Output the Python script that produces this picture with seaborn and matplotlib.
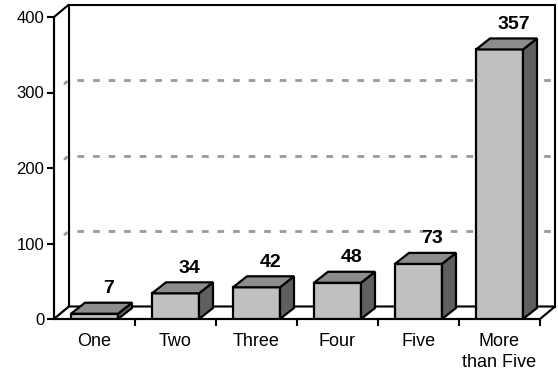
import matplotlib
matplotlib.use("Agg")
import matplotlib.pyplot as plt
import seaborn as sns
import pandas as pd
from matplotlib.patches import Polygon

categories = ["One", "Two", "Three", "Four", "Five", "More\nthan Five"]
counts = [7, 34, 42, 48, 73, 357]
y_ticks = [0, 100, 200, 300, 400]
grid_values = [100, 200, 300]

sns.set_theme(style="white")
plt.rcParams["font.family"] = ["Liberation Sans", "DejaVu Sans"]
plt.rcParams["text.color"] = "black"
plt.rcParams["xtick.color"] = "black"
plt.rcParams["ytick.color"] = "black"

W, H = 558, 375
fig = plt.figure(figsize=(W / 100, H / 100), dpi=100)
left_px, right_px, floor_px, top_px = 54, 540, 319, 17
ax = fig.add_axes([left_px / W, (H - floor_px) / H,
                   (right_px - left_px) / W, (floor_px - top_px) / H])
ax.set_facecolor("none")

df = pd.DataFrame({"category": categories, "count": counts})
sns.barplot(data=df, x="category", y="count", color="#C0C0C0", saturation=1,
            width=0.58, edgecolor="black", linewidth=1.6, ax=ax, zorder=3)
bars = list(ax.patches)

ax.set_xlim(-0.5, len(categories) - 0.5)
ax.set_ylim(y_ticks[0], y_ticks[-1])

# pixel -> data unit helpers for the pseudo-3D depth
px_x = (right_px - left_px) / len(categories)
px_y = (floor_px - top_px) / (y_ticks[-1] - y_ticks[0])


def depth(dx_px, dy_px):
    return dx_px / px_x, dy_px / px_y


wdx, wdy = depth(15, 12.5)   # wall / floor depth
bdx, bdy = depth(14, 11)     # bar depth

x0, x1 = -0.5, len(categories) - 0.5
ymax = y_ticks[-1]
wall_kw = dict(facecolor="white", edgecolor="black", linewidth=1.5,
               clip_on=False, joinstyle="miter")
# back wall, side wall, floor
ax.add_patch(Polygon([(x0 + wdx, wdy), (x1 + wdx, wdy), (x1 + wdx, ymax + wdy),
                      (x0 + wdx, ymax + wdy)], zorder=0.5, **wall_kw))
ax.add_patch(Polygon([(x0, 0), (x0 + wdx, wdy), (x0 + wdx, ymax + wdy), (x0, ymax)],
                     zorder=0.6, **wall_kw))
ax.add_patch(Polygon([(x0, 0), (x1, 0), (x1 + wdx, wdy), (x0 + wdx, wdy)],
                     zorder=0.7, **wall_kw))

# dashed gridlines on the back wall, with a short tick on the side wall
grid_kw = dict(color="#999999", linewidth=2, linestyle=(0, (2.4, 3.2)),
               clip_on=False, zorder=1, solid_capstyle="butt")
for v in grid_values:
    ax.plot([x0 + wdx + 0.1, x1 + wdx], [v + wdy, v + wdy], **grid_kw)
    ax.plot([x0 + wdx * 0.72, x0 + wdx * 0.86], [v + wdy * 0.72, v + wdy * 0.86],
            color="#999999", linewidth=2, clip_on=False, zorder=1)

# top and side faces of each bar, plus value labels
for bar, v in zip(bars, counts):
    bx, w, h = bar.get_x(), bar.get_width(), bar.get_height()
    top = Polygon([(bx, h), (bx + w, h), (bx + w + bdx, h + bdy), (bx + bdx, h + bdy)],
                  facecolor="#8C8C8C", edgecolor="black", linewidth=1.6, zorder=3,
                  joinstyle="miter")
    side = Polygon([(bx + w, 0), (bx + w + bdx, bdy), (bx + w + bdx, h + bdy), (bx + w, h)],
                   facecolor="#5F5F5F", edgecolor="black", linewidth=1.6, zorder=3,
                   joinstyle="miter")
    ax.add_patch(side)
    ax.add_patch(top)
    ax.annotate(str(v), xy=(bx + w / 2 + bdx / 2, h + bdy), xytext=(5, 7),
                textcoords="offset points", ha="center", va="baseline",
                fontsize=14, fontweight="bold", zorder=5)

sns.despine(ax=ax, top=True, right=True)
for s in ("left", "bottom"):
    ax.spines[s].set_linewidth(1.5)
    ax.spines[s].set_color("black")
    ax.spines[s].set_zorder(2)

ax.set_yticks(y_ticks)
ax.tick_params(axis="y", left=True, direction="out", length=5, width=1.5,
               labelsize=12, pad=2)
ax.set_xticks(range(len(categories)))
ax.set_xticklabels(categories, linespacing=1.3)
ax.set_xticks([i + 0.5 for i in range(len(categories))], minor=True)
ax.tick_params(axis="x", which="major", bottom=False, length=0, labelsize=13, pad=10)
ax.tick_params(axis="x", which="minor", bottom=True, direction="out", length=5, width=1.5)
ax.set_xlabel("")
ax.set_ylabel("")

fig.savefig("out.png", dpi=100)
